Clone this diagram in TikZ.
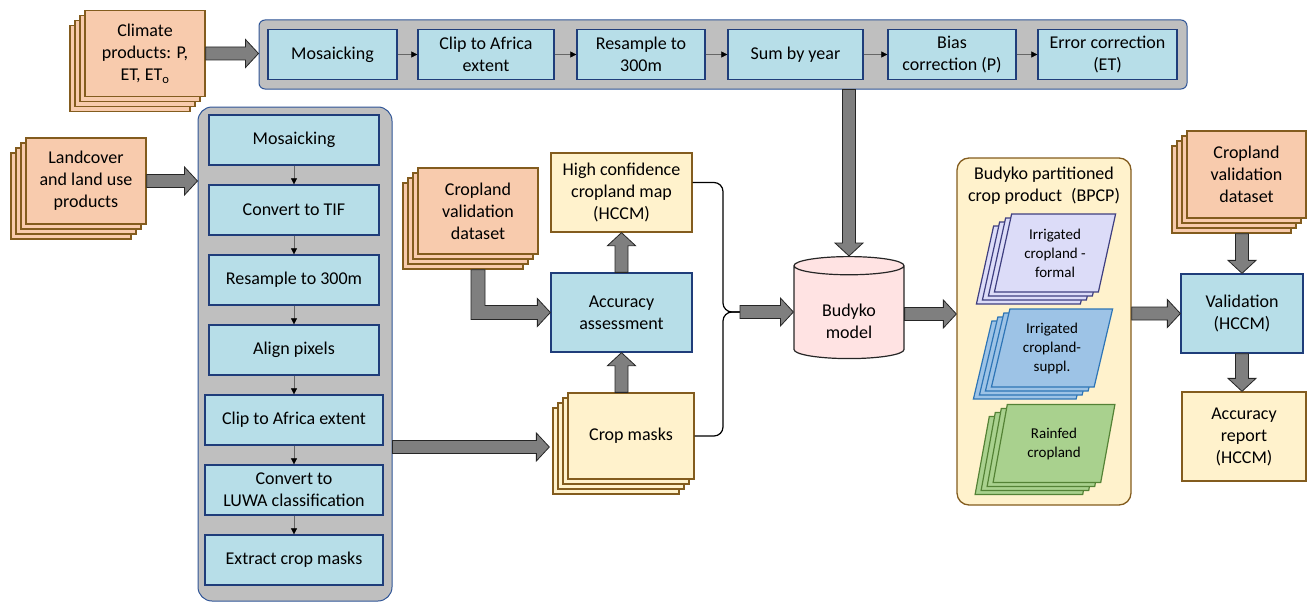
\documentclass[tikz,border=0pt]{standalone}
\usepackage{fontspec}
\setmainfont{Carlito}
\usetikzlibrary{shapes.geometric,shadows,calc,arrows.meta}

\definecolor{peach}{HTML}{F8CBAD}
\definecolor{stackbrown}{HTML}{835C1E}
\definecolor{cream}{HTML}{FFF2CC}
\definecolor{stepfill}{HTML}{B7DEE8}
\definecolor{stepline}{HTML}{1F3D7A}
\definecolor{panelgray}{HTML}{BFBFBF}
\definecolor{panelline}{HTML}{2F5597}
\definecolor{fatgray}{HTML}{7F7F7F}
\definecolor{fatline}{HTML}{262626}
\definecolor{budykopink}{HTML}{FFE3E3}
\definecolor{formalfill}{HTML}{DCDCF8}
\definecolor{formalline}{HTML}{3F3F80}
\definecolor{supplfill}{HTML}{9DC3E6}
\definecolor{supplline}{HTML}{2E75B6}
\definecolor{rainfill}{HTML}{A9D18E}
\definecolor{rainline}{HTML}{548235}

\tikzset{
  every node/.style={font=\fontsize{18}{22}\selectfont, align=center},
  panel/.style={rectangle, rounded corners=#1, draw=panelline, fill=panelgray, line width=1pt},
  stepbox/.style={rectangle, draw=stepline, fill=stepfill, line width=1.3pt, minimum height=50pt, inner sep=1pt},
  outbox/.style={rectangle, draw=stackbrown, fill=cream, line width=1.3pt, inner sep=1pt},
  stack/.style={rectangle, draw=stackbrown, line width=1.3pt, minimum width=120pt, minimum height=86pt, inner sep=1pt,
    copy shadow={shadow xshift=-15pt, shadow yshift=-15pt},
    double copy shadow={shadow xshift=-5pt, shadow yshift=-5pt}},
  layer/.style={trapezium, trapezium left angle=76, trapezium right angle=104, trapezium stretches=true,
    minimum width=122pt, minimum height=78pt, line width=1.2pt, inner sep=1pt, font=\fontsize{15}{19}\selectfont,
    copy shadow={shadow xshift=-18pt, shadow yshift=-12pt},
    double copy shadow={shadow xshift=-6pt, shadow yshift=-4pt}},
  flow/.style={draw=black!60, line width=0.6pt, -{Triangle[length=6pt, width=6pt, color=black]}},
  curl/.style={draw=black, line width=1.2pt, rounded corners=9pt},
  fatarrow/.style={draw=fatline, fill=fatgray, line width=0.8pt, line join=miter,
    to path={let \p1=(\tikztostart), \p2=(\tikztotarget), \p3=($(\p2)!13pt!(\p1)$) in
      ($(\p1)!6.5pt!90:(\p2)$) -- ($(\p3)!6.5pt!-90:(\p1)$) -- ($(\p3)!14pt!-90:(\p1)$) -- (\p2)
      -- ($(\p3)!14pt!90:(\p1)$) -- ($(\p3)!6.5pt!90:(\p1)$) -- ($(\p1)!6.5pt!-90:(\p2)$) -- cycle}},
}

\begin{document}
\begin{tikzpicture}[x=1pt, y=-1pt]
    \useasboundingbox (0,0) rectangle (1309,602);

    % panels
    \node[panel=6pt, minimum width=928pt, minimum height=69pt] (toppanel) at (723,54.5) {};
    \node[panel=14pt, minimum width=194pt, minimum height=494pt] (leftpanel) at (295,354) {};
    \node[outbox, rounded corners=12pt, minimum width=174pt, minimum height=347pt] (bpcp) at (1044,331.5) {};
    \node (bpcptitle) at (1044,186) {Budyko partitioned\\crop product\enspace(BPCP)};

    % climate steps
    \node[stepbox, minimum width=129pt] (t1) at (332.5,54.5) {Mosaicking};
    \node[stepbox, minimum width=136pt] (t2) at (486,54.5) {Clip to Africa\\extent};
    \node[stepbox, minimum width=128pt] (t3) at (641,54.5) {Resample to\\300m};
    \node[stepbox, minimum width=135pt] (t4) at (795.5,54.5) {Sum by year};
    \node[stepbox, minimum width=128pt] (t5) at (952,54.5) {Bias\\correction (P)};
    \node[stepbox, minimum width=139pt] (t6) at (1107.5,54.5) {Error correction\\(ET)};

    % land cover steps
    \node[stepbox, minimum width=170pt] (l1) at (294,140) {Mosaicking};
    \node[stepbox, minimum width=170pt] (l2) at (294,210) {Convert to TIF};
    \node[stepbox, minimum width=170pt] (l3) at (294,280) {Resample to 300m};
    \node[stepbox, minimum width=170pt] (l4) at (294,350) {Align pixels};
    \node[stepbox, minimum width=178pt] (l5) at (294,420) {Clip to Africa extent};
    \node[stepbox, minimum width=178pt] (l6) at (294,490) {Convert to\\LUWA classification};
    \node[stepbox, minimum width=178pt] (l7) at (294,560) {Extract crop masks};

    % inputs
    \node[stack, fill=peach] (climate) at (145,53.5) {Climate\\products: P,\\ET, ET\textsubscript{o}};
    \node[stack, fill=peach] (landcover) at (86,181) {Landcover\\and land use\\products};
    \node[stack, fill=peach] (cvalmid) at (478,211) {Cropland\\validation\\dataset};
    \node[stack, fill=cream, minimum width=126pt] (masks) at (631,436) {Crop masks};
    \node[stack, fill=peach, minimum width=119pt, minimum height=87pt] (cvalright) at (1246.5,174.5) {Cropland\\validation\\dataset};

    \node[outbox, minimum width=141pt, minimum height=79pt] (hccm) at (621.5,192.5) {High confidence\\cropland map\\(HCCM)};
    \node[stepbox, minimum width=141pt, minimum height=79pt] (accuracy) at (621.5,312.5) {Accuracy\\assessment};
    \node[cylinder, shape border rotate=90, aspect=0.3, draw=fatline, fill=budykopink, line width=1.2pt,
          minimum width=110pt, minimum height=102pt] (budyko) at (849,314) {\phantom{Budyko}\\\phantom{model}};
    \node (budykolabel) at (849,321) {Budyko\\model};
    \node[stepbox, minimum width=122pt, minimum height=79pt] (validation) at (1242,313.5) {Validation\\(HCCM)};
    \node[outbox, minimum width=124pt, minimum height=89pt] (report) at (1244,436.5) {Accuracy\\report\\(HCCM)};

    % partitioned layers
    \node[layer, draw=formalline, fill=formalfill] (formal) at (1055,253) {Irrigated\\cropland -\\formal};
    \node[layer, draw=supplline, fill=supplfill] (suppl) at (1052,348) {Irrigated\\cropland-\\suppl.};
    \node[layer, draw=rainline, fill=rainfill] (rainfed) at (1054,443.5) {Rainfed\\cropland};

    % small arrows
    \foreach \a/\b in {t1/t2, t2/t3, t3/t4, t4/t5, t5/t6}
        \draw[flow] (\a.east) -- (\b.west);
    \foreach \a/\b in {l1/l2, l2/l3, l3/l4, l4/l5, l5/l6, l6/l7}
        \draw[flow] (\a.south) -- (\b.north);

    % big arrows
    \path[fatarrow] (climate.east) to (climate.east -| toppanel.west);
    \path[fatarrow] (landcover.east) to (landcover.east -| leftpanel.west);
    \path[fatarrow] ([yshift=-11pt]masks.west -| leftpanel.east) to ([xshift=-18pt,yshift=-11pt]masks.west);
    \path[fatarrow] (accuracy.north) to (hccm.south);
    \path[fatarrow] (accuracy.south |- masks.north) to (accuracy.south);
    \path[fatarrow] let \p1=(cvalmid.south), \p2=(accuracy.west) in
        (\x1-7pt,\y1-15pt) -- (\x1+7pt,\y1-15pt) -- (\x1+7pt,\y2+7pt) -- (\x2-13pt,\y2+7pt) -- (\x2-13pt,\y2+14pt)
        -- (\p2) -- (\x2-13pt,\y2-14pt) -- (\x2-13pt,\y2-7pt) -- (\x1-7pt,\y2-7pt) -- cycle;

    \coordinate (merge) at (740,312);
    \draw[curl] ([yshift=10pt]hccm.east) -| ([xshift=-17pt]merge) -- (merge);
    \draw[curl] (masks.east) -| ([xshift=-17pt]merge) -- (merge);
    \path[fatarrow] (merge) to (merge -| budyko.west);

    \path[fatarrow] (budyko.north |- toppanel.south) to (budyko.north);
    \path[fatarrow] (budyko.east) to (budyko.east -| bpcp.west);
    \path[fatarrow] (validation.west -| bpcp.east) to (validation.west);
    \path[fatarrow] ([yshift=-15pt]validation.north |- cvalright.south) to (validation.north);
    \path[fatarrow] (validation.south) to (validation.south |- report.north);
\end{tikzpicture}
\end{document}
